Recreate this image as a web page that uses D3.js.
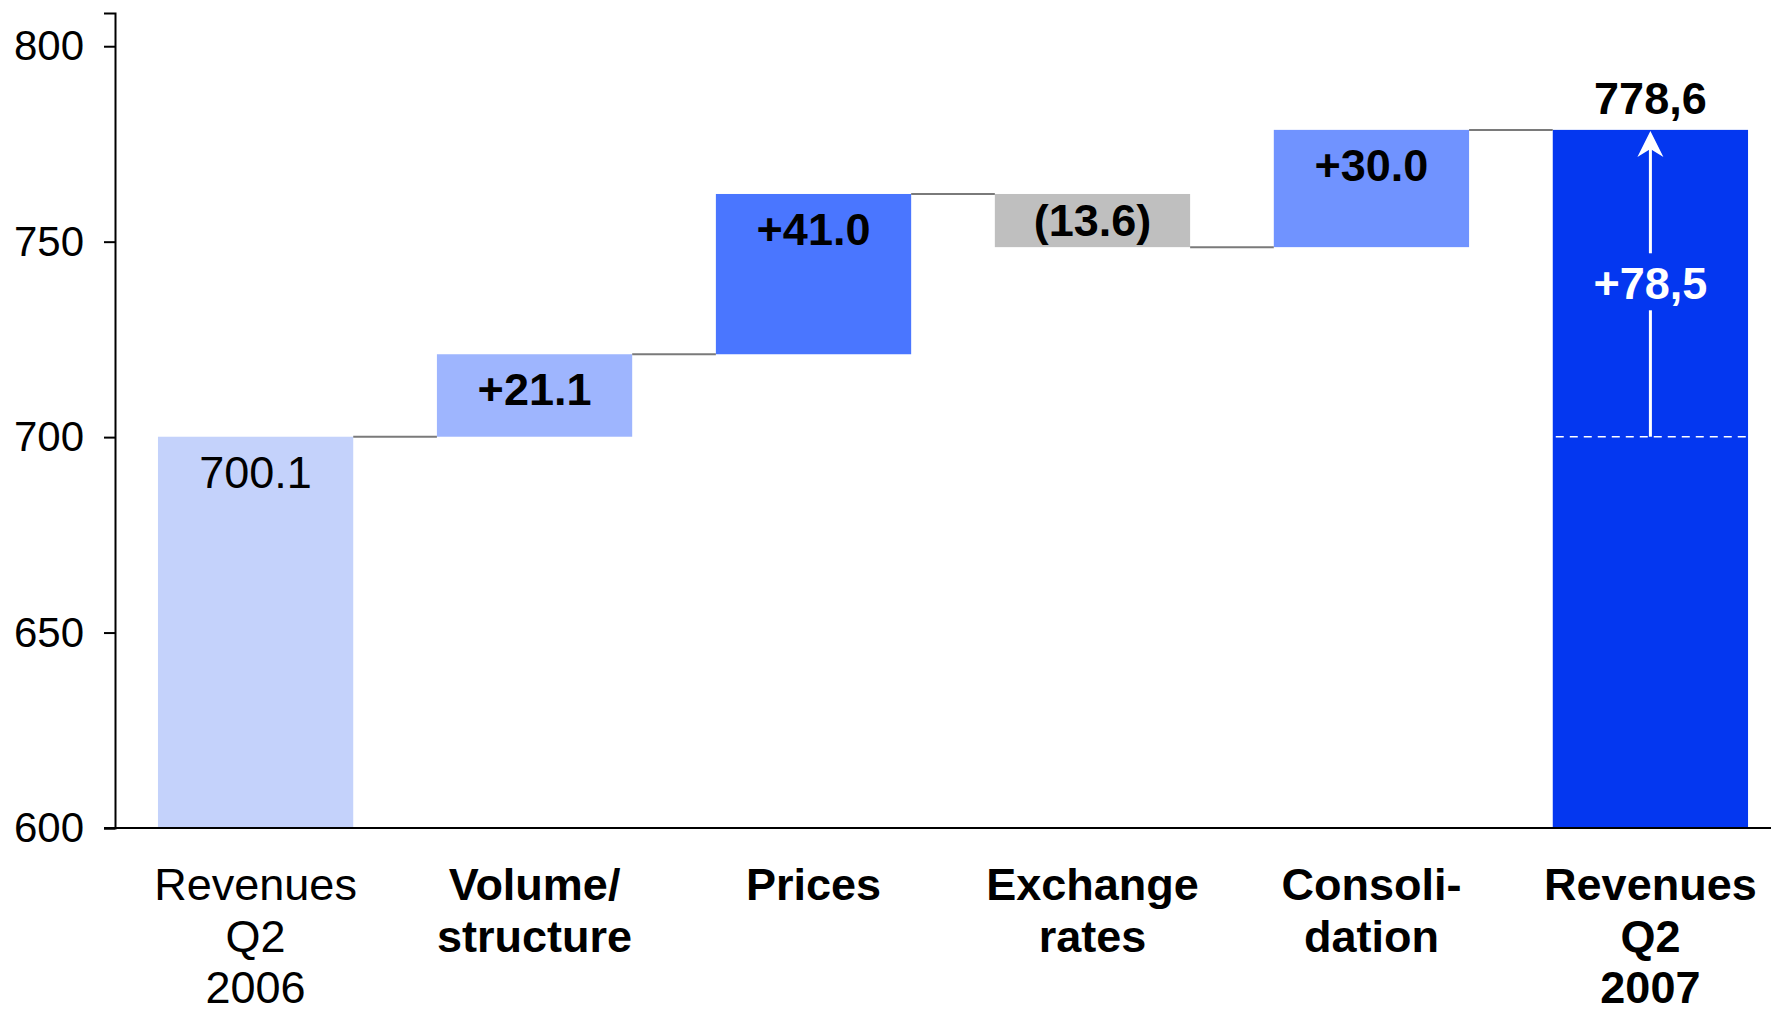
<!DOCTYPE html>
<head>
  <meta charset="utf-8">
  <title>Revenues Q2 bridge</title>
  <script src="https://d3js.org/d3.v7.min.js"></script>
</head>
<body style="margin:0;background:#fff">
  <script>
    var categories = [
      ['Revenues', 'Q2', '2006'],
      ['Volume/', 'structure'],
      ['Prices'],
      ['Exchange', 'rates'],
      ['Consoli-', 'dation'],
      ['Revenues', 'Q2', '2007']
    ];
    var kinds = ['total', 'delta', 'delta', 'delta', 'delta', 'total'];
    var values = [700.1, 21.1, 41.0, -13.6, 30.0, 778.6];
    var valueLabels = ['700.1', '+21.1', '+41.0', '(13.6)', '+30.0', '778,6'];
    var boldLabels = [false, true, true, true, true, true];
    var barColors = ['#c4d2fb', '#9eb5fe', '#4a76ff', '#bfbfbf', '#7093ff', '#0437f0'];
    var changeLabel = '+78,5';
    var yTicks = [600, 650, 700, 750, 800];

    var width = 1771;
    var height = 1014;
    var font = 'Arial, "Liberation Sans", sans-serif';

    // running totals for the waterfall
    var bars = [];
    var run = 0;
    values.forEach(function(v, i) {
      if (kinds[i] == 'total') {
        bars.push({i: i, y0: 600, y1: v, end: v});
        run = v;
      } else {
        bars.push({i: i, y0: run, y1: run + v, end: run + v});
        run = run + v;
      }
    });

    var svg = d3.select('body').append('svg').attr('width', width).attr('height', height)
      .style('font-family', font);

    var x = d3.scaleBand()
      .domain(d3.range(categories.length))
      .range([115, 1791])
      .paddingInner(0.3)
      .paddingOuter(0.154);

    var y = d3.scaleLinear()
      .domain([600, 808.5])
      .range([828, 13]);

    svg.selectAll('rect.bar')
      .data(bars)
      .enter()
      .append('rect')
      .attr('class', 'bar')
      .attr('x', function(d) {return x(d.i);})
      .attr('width', x.bandwidth())
      .attr('y', function(d) {return y(Math.max(d.y0, d.y1));})
      .attr('height', function(d) {return Math.abs(y(d.y0) - y(d.y1));})
      .attr('fill', function(d) {return barColors[d.i];});

    // connectors
    svg.selectAll('line.conn')
      .data(bars.slice(0, bars.length - 1))
      .enter()
      .append('line')
      .attr('x1', function(d) {return x(d.i) + x.bandwidth();})
      .attr('x2', function(d) {return x(d.i + 1);})
      .attr('y1', function(d) {return y(d.end);})
      .attr('y2', function(d) {return y(d.end);})
      .attr('stroke', '#7a7a7a')
      .attr('stroke-width', 2);

    // value labels inside bars
    svg.selectAll('text.val')
      .data(bars.slice(0, bars.length - 1))
      .enter()
      .append('text')
      .attr('x', function(d) {return x(d.i) + x.bandwidth() / 2;})
      .attr('y', function(d) {
        var top = y(Math.max(d.y0, d.y1));
        var bot = y(Math.min(d.y0, d.y1));
        return Math.min(top + 36, (top + bot) / 2) + 15;
      })
      .attr('text-anchor', 'middle')
      .attr('font-size', 45)
      .attr('font-weight', function(d) {return boldLabels[d.i] ? 'bold' : 'normal';})
      .text(function(d) {return valueLabels[d.i];});

    // total bar annotation
    var last = bars[bars.length - 1];
    var cx = x(last.i) + x.bandwidth() / 2;
    svg.append('text')
      .attr('x', cx)
      .attr('y', y(last.y1) - 16)
      .attr('text-anchor', 'middle')
      .attr('font-size', 45)
      .attr('font-weight', 'bold')
      .text(valueLabels[last.i]);

    svg.append('line')
      .attr('x1', x(last.i) + 3)
      .attr('x2', x(last.i) + x.bandwidth())
      .attr('y1', y(values[0]))
      .attr('y2', y(values[0]))
      .attr('stroke', '#fff')
      .attr('stroke-width', 1.5)
      .attr('stroke-dasharray', '8,6');

    var textY = (y(values[0]) + y(last.y1)) / 2;
    svg.append('line')
      .attr('x1', cx).attr('x2', cx)
      .attr('y1', y(values[0])).attr('y2', textY + 27)
      .attr('stroke', '#fff').attr('stroke-width', 3);
    svg.append('line')
      .attr('x1', cx).attr('x2', cx)
      .attr('y1', textY - 30).attr('y2', y(last.y1) + 10)
      .attr('stroke', '#fff').attr('stroke-width', 3);
    var tip = y(last.y1) + 1;
    svg.append('path')
      .attr('d', 'M' + cx + ',' + tip + 'L' + (cx + 13) + ',' + (tip + 26) +
        'L' + cx + ',' + (tip + 18) + 'L' + (cx - 13) + ',' + (tip + 26) + 'Z')
      .attr('fill', '#fff');
    svg.append('text')
      .attr('x', cx)
      .attr('y', textY + 16)
      .attr('text-anchor', 'middle')
      .attr('font-size', 45)
      .attr('font-weight', 'bold')
      .attr('fill', '#fff')
      .text(changeLabel);

    // axes
    var axisy = d3.axisLeft(y).tickValues(yTicks).tickSize(11).tickPadding(20);
    var gy = svg.append('g')
      .attr('transform', 'translate(115,0)')
      .call(axisy);
    gy.select('.domain').attr('stroke', '#000').attr('stroke-width', 2);
    gy.selectAll('.tick line').attr('stroke', '#000').attr('stroke-width', 2);
    gy.selectAll('.tick text')
      .attr('font-size', 42)
      .attr('font-family', font)
      .attr('fill', '#000');

    svg.append('line')
      .attr('x1', 104).attr('x2', width)
      .attr('y1', y(600)).attr('y2', y(600))
      .attr('stroke', '#000').attr('stroke-width', 2);

    // category labels
    var cat = svg.selectAll('text.cat')
      .data(categories)
      .enter()
      .append('text')
      .attr('text-anchor', 'middle')
      .attr('font-size', 45)
      .attr('font-weight', function(d, i) {return i == 0 ? 'normal' : 'bold';});
    cat.selectAll('tspan')
      .data(function(d, i) {return d.map(function(s) {return {s: s, i: i};});})
      .enter()
      .append('tspan')
      .attr('x', function(d) {return x(d.i) + x.bandwidth() / 2;})
      .attr('y', function(d, j) {return 900 + j * 51.5;})
      .text(function(d) {return d.s;});
  </script>
</body>
